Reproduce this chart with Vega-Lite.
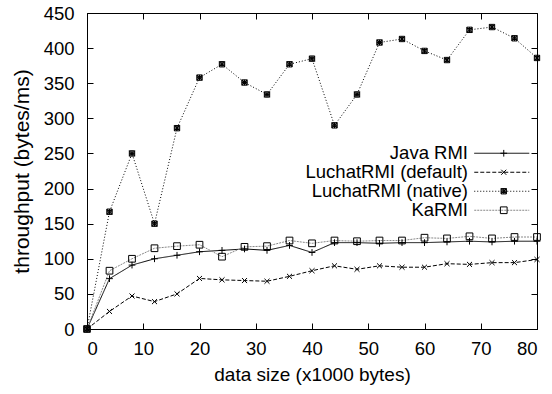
{
  "$schema": "https://vega.github.io/schema/vega-lite/v6.json",
  "width": 450,
  "height": 316,
  "autosize": {"type": "none"},
  "padding": {"left": 87, "top": 13, "right": 15, "bottom": 65},
  "background": "white",
  "config": {
    "font": "Liberation Sans",
    "view": {"stroke": "black", "strokeWidth": 1},
    "axis": {
      "grid": false,
      "domainColor": "black",
      "tickColor": "black",
      "labelColor": "black",
      "titleColor": "black",
      "labelFont": "Liberation Sans",
      "titleFont": "Liberation Sans",
      "labelFontSize": 18.5,
      "titleFontSize": 19,
      "titleFontWeight": "normal"
    }
  },
  "data": {
    "values": [
      {"size": 0, "series": "Java RMI", "tp": 0},
      {"size": 4, "series": "Java RMI", "tp": 71.7},
      {"size": 8, "series": "Java RMI", "tp": 91},
      {"size": 12, "series": "Java RMI", "tp": 100},
      {"size": 16, "series": "Java RMI", "tp": 105},
      {"size": 20, "series": "Java RMI", "tp": 110},
      {"size": 24, "series": "Java RMI", "tp": 112},
      {"size": 28, "series": "Java RMI", "tp": 114},
      {"size": 32, "series": "Java RMI", "tp": 112},
      {"size": 36, "series": "Java RMI", "tp": 119},
      {"size": 40, "series": "Java RMI", "tp": 109},
      {"size": 44, "series": "Java RMI", "tp": 123},
      {"size": 48, "series": "Java RMI", "tp": 123},
      {"size": 52, "series": "Java RMI", "tp": 122},
      {"size": 56, "series": "Java RMI", "tp": 123},
      {"size": 60, "series": "Java RMI", "tp": 123},
      {"size": 64, "series": "Java RMI", "tp": 124},
      {"size": 68, "series": "Java RMI", "tp": 125},
      {"size": 72, "series": "Java RMI", "tp": 124},
      {"size": 76, "series": "Java RMI", "tp": 125},
      {"size": 80, "series": "Java RMI", "tp": 125},
      {"size": 0, "series": "LuchatRMI (default)", "tp": 0},
      {"size": 4, "series": "LuchatRMI (default)", "tp": 25},
      {"size": 8, "series": "LuchatRMI (default)", "tp": 47},
      {"size": 12, "series": "LuchatRMI (default)", "tp": 39},
      {"size": 16, "series": "LuchatRMI (default)", "tp": 50},
      {"size": 20, "series": "LuchatRMI (default)", "tp": 72},
      {"size": 24, "series": "LuchatRMI (default)", "tp": 70},
      {"size": 28, "series": "LuchatRMI (default)", "tp": 69},
      {"size": 32, "series": "LuchatRMI (default)", "tp": 68},
      {"size": 36, "series": "LuchatRMI (default)", "tp": 75},
      {"size": 40, "series": "LuchatRMI (default)", "tp": 83},
      {"size": 44, "series": "LuchatRMI (default)", "tp": 90},
      {"size": 48, "series": "LuchatRMI (default)", "tp": 85},
      {"size": 52, "series": "LuchatRMI (default)", "tp": 90},
      {"size": 56, "series": "LuchatRMI (default)", "tp": 88},
      {"size": 60, "series": "LuchatRMI (default)", "tp": 88},
      {"size": 64, "series": "LuchatRMI (default)", "tp": 93},
      {"size": 68, "series": "LuchatRMI (default)", "tp": 92},
      {"size": 72, "series": "LuchatRMI (default)", "tp": 94.5},
      {"size": 76, "series": "LuchatRMI (default)", "tp": 94.5},
      {"size": 80, "series": "LuchatRMI (default)", "tp": 99},
      {"size": 0, "series": "LuchatRMI (native)", "tp": 0},
      {"size": 4, "series": "LuchatRMI (native)", "tp": 167},
      {"size": 8, "series": "LuchatRMI (native)", "tp": 250},
      {"size": 12, "series": "LuchatRMI (native)", "tp": 150},
      {"size": 16, "series": "LuchatRMI (native)", "tp": 286},
      {"size": 20, "series": "LuchatRMI (native)", "tp": 358},
      {"size": 24, "series": "LuchatRMI (native)", "tp": 377},
      {"size": 28, "series": "LuchatRMI (native)", "tp": 351},
      {"size": 32, "series": "LuchatRMI (native)", "tp": 334},
      {"size": 36, "series": "LuchatRMI (native)", "tp": 377},
      {"size": 40, "series": "LuchatRMI (native)", "tp": 385},
      {"size": 44, "series": "LuchatRMI (native)", "tp": 290},
      {"size": 48, "series": "LuchatRMI (native)", "tp": 334},
      {"size": 52, "series": "LuchatRMI (native)", "tp": 408},
      {"size": 56, "series": "LuchatRMI (native)", "tp": 413},
      {"size": 60, "series": "LuchatRMI (native)", "tp": 396},
      {"size": 64, "series": "LuchatRMI (native)", "tp": 383},
      {"size": 68, "series": "LuchatRMI (native)", "tp": 426},
      {"size": 72, "series": "LuchatRMI (native)", "tp": 430},
      {"size": 76, "series": "LuchatRMI (native)", "tp": 414},
      {"size": 80, "series": "LuchatRMI (native)", "tp": 386},
      {"size": 0, "series": "KaRMI", "tp": 0},
      {"size": 4, "series": "KaRMI", "tp": 83},
      {"size": 8, "series": "KaRMI", "tp": 100},
      {"size": 12, "series": "KaRMI", "tp": 115},
      {"size": 16, "series": "KaRMI", "tp": 118},
      {"size": 20, "series": "KaRMI", "tp": 120},
      {"size": 24, "series": "KaRMI", "tp": 103},
      {"size": 28, "series": "KaRMI", "tp": 117},
      {"size": 32, "series": "KaRMI", "tp": 118},
      {"size": 36, "series": "KaRMI", "tp": 126},
      {"size": 40, "series": "KaRMI", "tp": 122},
      {"size": 44, "series": "KaRMI", "tp": 126},
      {"size": 48, "series": "KaRMI", "tp": 125},
      {"size": 52, "series": "KaRMI", "tp": 126},
      {"size": 56, "series": "KaRMI", "tp": 126},
      {"size": 60, "series": "KaRMI", "tp": 130},
      {"size": 64, "series": "KaRMI", "tp": 129},
      {"size": 68, "series": "KaRMI", "tp": 132},
      {"size": 72, "series": "KaRMI", "tp": 129},
      {"size": 76, "series": "KaRMI", "tp": 131},
      {"size": 80, "series": "KaRMI", "tp": 131}
    ]
  },
  "layer": [
    {
      "transform": [{"filter": {"field": "series", "oneOf": ["Java RMI", "LuchatRMI (default)"]}}],
      "mark": {"type": "line", "strokeWidth": 1},
      "encoding": {
        "x": {"field": "size", "type": "quantitative", "scale": {"domain": [0, 80], "nice": false},
              "axis": {"orient": "bottom", "values": [0,10,20,30,40,50,60,70,80], "title": "data size (x1000 bytes)", "labelPadding": 10, "titlePadding": 8, "ticks": false, "grid": false}},
        "y": {"field": "tp", "type": "quantitative", "scale": {"domain": [0, 450], "nice": false},
              "axis": {"orient": "left", "values": [0,50,100,150,200,250,300,350,400,450], "title": "throughput (bytes/ms)", "labelPadding": 13, "titlePadding": 11, "titleFontSize": 21, "ticks": false, "grid": false}},
        "color": {"field": "series", "type": "nominal",
          "scale": {"domain": ["Java RMI", "LuchatRMI (default)", "LuchatRMI (native)", "KaRMI"], "range": ["black", "black", "black", "#888888"]},
          "legend": {"orient": "none", "legendX": 405.5, "legendY": 131, "title": null, "padding": 0, "symbolType": "M-5,0L5,0", "symbolSize": 121, "symbolStrokeWidth": 1, "labelAlign": "right", "labelOffset": -43, "labelFontSize": 18.5, "labelFont": "Liberation Sans", "labelColor": "black", "rowPadding": 0, "labelLimit": 0}},
        "strokeDash": {"field": "series", "type": "nominal",
          "scale": {"domain": ["Java RMI", "LuchatRMI (default)", "LuchatRMI (native)", "KaRMI"], "range": [[1, 0], [4, 2], [1, 2], [2, 1]]},
          "legend": {"orient": "none", "legendX": 405.5, "legendY": 131, "title": null, "padding": 0, "symbolType": "M-5,0L5,0", "symbolSize": 121, "symbolStrokeWidth": 1, "labelAlign": "right", "labelOffset": -43, "labelFontSize": 18.5, "labelFont": "Liberation Sans", "labelColor": "black", "rowPadding": 0, "labelLimit": 0}}
      }
    },
    {
      "transform": [{"filter": {"field": "series", "oneOf": ["LuchatRMI (native)", "KaRMI"]}}],
      "mark": {"type": "line", "strokeWidth": 1},
      "encoding": {
        "x": {"field": "size", "type": "quantitative", "scale": {"domain": [0, 80], "nice": false},
              "axis": {"orient": "top", "offset": -316, "values": [0,10,20,30,40,50,60,70,80], "title": null, "labels": false, "domain": false, "ticks": true, "tickSize": 6, "tickWidth": 1, "tickColor": "black", "grid": false}},
        "y": {"field": "tp", "type": "quantitative", "scale": {"domain": [0, 450], "nice": false},
              "axis": {"orient": "right", "offset": -450, "values": [0,50,100,150,200,250,300,350,400,450], "title": null, "labels": false, "domain": false, "ticks": true, "tickSize": 6, "tickWidth": 1, "tickColor": "black", "grid": false}},
        "color": {"field": "series", "type": "nominal",
          "scale": {"domain": ["Java RMI", "LuchatRMI (default)", "LuchatRMI (native)", "KaRMI"], "range": ["black", "black", "black", "#888888"]},
          "legend": {"orient": "none", "legendX": 405.5, "legendY": 131, "title": null, "padding": 0, "symbolType": "M-5,0L5,0", "symbolSize": 121, "symbolStrokeWidth": 1, "labelAlign": "right", "labelOffset": -43, "labelFontSize": 18.5, "labelFont": "Liberation Sans", "labelColor": "black", "rowPadding": 0, "labelLimit": 0}},
        "strokeDash": {"field": "series", "type": "nominal",
          "scale": {"domain": ["Java RMI", "LuchatRMI (default)", "LuchatRMI (native)", "KaRMI"], "range": [[1, 0], [4, 2], [1, 2], [2, 1]]},
          "legend": {"orient": "none", "legendX": 405.5, "legendY": 131, "title": null, "padding": 0, "symbolType": "M-5,0L5,0", "symbolSize": 121, "symbolStrokeWidth": 1, "labelAlign": "right", "labelOffset": -43, "labelFontSize": 18.5, "labelFont": "Liberation Sans", "labelColor": "black", "rowPadding": 0, "labelLimit": 0}}
      }
    },
    {
      "mark": {"type": "point", "filled": false, "color": "black", "strokeWidth": 1, "opacity": 1, "size": 45},
      "encoding": {
        "x": {"field": "size", "type": "quantitative", "scale": {"domain": [0, 80], "nice": false},
              "axis": {"orient": "bottom", "offset": -316, "values": [0,10,20,30,40,50,60,70,80], "title": null, "labels": false, "domain": false, "ticks": true, "tickSize": 6, "tickWidth": 1, "tickColor": "black", "grid": false}},
        "y": {"field": "tp", "type": "quantitative", "scale": {"domain": [0, 450], "nice": false},
              "axis": {"orient": "left", "offset": -450, "values": [0,50,100,150,200,250,300,350,400,450], "title": null, "labels": false, "domain": false, "ticks": true, "tickSize": 6, "tickWidth": 1, "tickColor": "black", "grid": false}},
        "shape": {"field": "series", "type": "nominal", "sort": null,
          "scale": {"range": ["M-1,0L1,0M0,-1L0,1", "M-0.75,-0.75L0.75,0.75M-0.75,0.75L0.75,-0.75", "M-0.8,-0.8L0.8,-0.8L0.8,0.8L-0.8,0.8Z M-0.8,-0.8L0.8,0.8M-0.8,0.8L0.8,-0.8M0,-0.8L0,0.8M-0.8,0L0.8,0M-0.8,-0.4L0.8,-0.4M-0.8,0.4L0.8,0.4", "square"]},
          "legend": {"orient": "none", "legendX": 407.5, "legendY": 131, "title": null, "padding": 0, "symbolSize": 45, "symbolStrokeColor": "black", "symbolStrokeWidth": 1, "labelFontSize": 18.5, "labelFont": "Liberation Sans", "labelOpacity": 0, "rowPadding": 0, "labelLimit": 8}}
      }
    }
  ],
  "resolve": {"axis": {"x": "independent", "y": "independent"}}
}
